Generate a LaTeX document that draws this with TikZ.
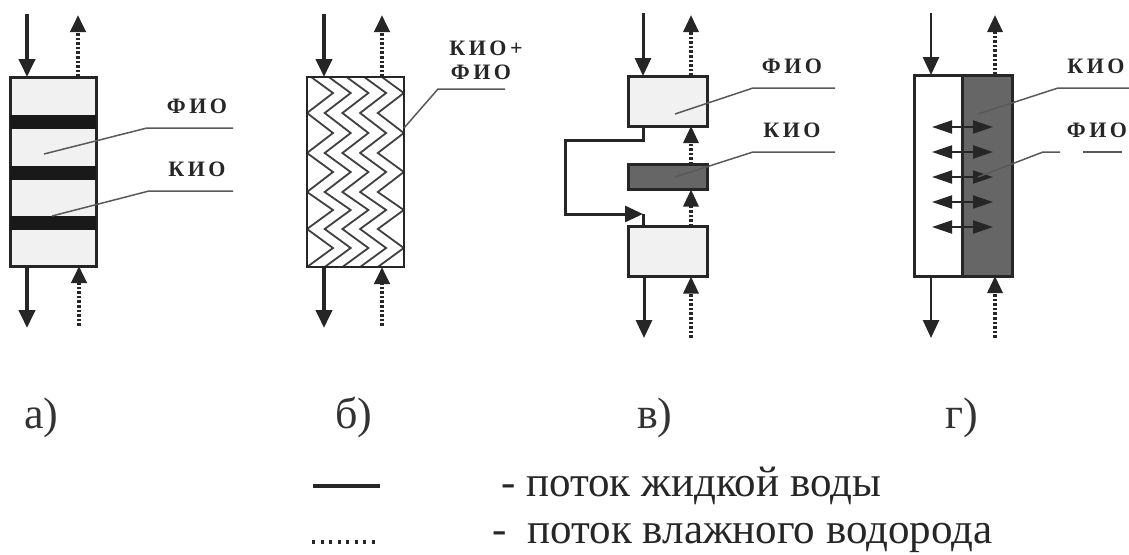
\documentclass[tikz,border=0pt]{standalone}
\usepackage{fontspec}
\setmainfont{Liberation Serif}
\usetikzlibrary{arrows.meta}
\definecolor{inkgray}{HTML}{262626}
\definecolor{layerlight}{HTML}{F1F1F1}
\definecolor{layerdark}{HTML}{666666}
\tikzset{
  layer/.style={draw=inkgray,line width=3pt,fill=layerlight,inner sep=0pt,outer sep=0pt},
  band/.style={fill=black!90,inner sep=0pt,outer sep=0pt},
  water/.style={draw=inkgray,line width=4pt,-{Triangle[length=18pt,width=16pt]}},
  vapor/.style={draw=inkgray,line width=4pt,dash pattern=on 2.6pt off 2pt,-{Triangle[length=17pt,width=15pt]}},
  leader/.style={draw=black!65,line width=1.5pt},
  tag/.style={font=\bfseries\fontsize{22}{24}\selectfont\addfontfeature{LetterSpace=16},inner sep=0pt,text=black!85},
  panel/.style={font=\fontsize{44}{48}\selectfont,inner sep=0pt,anchor=base west,text=black!80},
  legend/.style={font=\fontsize{43}{47}\selectfont,inner sep=0pt,anchor=base west,text=black!85}
}
\begin{document}
\begin{tikzpicture}[x=1pt,y=-1pt]
  \useasboundingbox (0,0) rectangle (1129,554);

  \node[layer,minimum width=86pt,minimum height=189pt] (boxa) at (53,171.5) {};
  \foreach \n/\y in {1/122,2/173,3/223}
    \node[band,minimum width=86pt,minimum height=14pt] (banda\n) at (53,\y) {};
  \coordinate (aIn) at (27,14);
  \coordinate (aOut) at (27,328);
  \coordinate (aUp) at (78,15);
  \coordinate (aLow) at (79,326);
  \draw[water] (aIn) -- (aIn |- boxa.north);
  \draw[water] (aIn |- boxa.south) -- (aOut);
  \draw[vapor] (aUp |- boxa.north) -- (aUp);
  \draw[vapor] (aLow) -- (aLow |- boxa.south);
  \node[tag] (fioa) at (197,106) {ФИО};
  \node[tag] (kioa) at (197,169) {КИО};
  \coordinate (fioaEnd) at (44,154);
  \coordinate (fioaBend) at (147,128);
  \coordinate (fioaTail) at (233,128);
  \coordinate (kioaEnd) at (52,216);
  \coordinate (kioaBend) at (149,191);
  \coordinate (kioaTail) at (233,191);
  \draw[leader] (fioaEnd) -- (fioaBend) -- (fioaTail);
  \draw[leader] (kioaEnd) -- (kioaBend) -- (kioaTail);

  \node[fill=white,inner sep=0pt,outer sep=0pt,
    minimum width=97pt,minimum height=190pt] (boxb) at (355.5,172) {};
  \begin{scope}
    \clip (307,77) rectangle (404,267);
    \foreach \k in {0,...,4}
      \draw[black!75,line width=1.8pt,xshift=17.7*\k pt]
        (307,267) -- (333,248) -- (307,229) -- (333,210) -- (307,192) -- (333,172)
        -- (307,153) -- (333,133) -- (307,113) -- (333,93) -- (307,74);
  \end{scope}
  \node[draw=inkgray,line width=2.2pt,inner sep=0pt,outer sep=0pt,
    minimum width=97pt,minimum height=190pt] (frameb) at (355.5,172) {};
  \coordinate (bIn) at (324,14);
  \coordinate (bOut) at (324,328);
  \coordinate (bUp) at (382,15);
  \coordinate (bLow) at (382,326);
  \draw[water] (bIn) -- (bIn |- boxb.north);
  \draw[water] (bIn |- boxb.south) -- (bOut);
  \draw[vapor] (bUp |- boxb.north) -- (bUp);
  \draw[vapor] (bLow) -- (bLow |- boxb.south);
  \node[tag] (kiob) at (486,48) {КИО+};
  \node[tag] (fiob) at (481,72) {ФИО};
  \coordinate (kiobEnd) at (404,128);
  \coordinate (kiobBend) at (438,89);
  \coordinate (kiobTail) at (505,89);
  \draw[leader] (kiobEnd) -- (kiobBend) -- (kiobTail);

  \node[layer,minimum width=79pt,minimum height=50pt] (topv) at (667.5,101) {};
  \node[layer,fill=layerdark,minimum width=79pt,minimum height=25pt] (midv) at (667.5,177) {};
  \node[layer,minimum width=79pt,minimum height=50pt] (lowv) at (667.5,251.5) {};
  \coordinate (vIn) at (643,13);
  \coordinate (vOut) at (644,338);
  \coordinate (vUp) at (691,15);
  \coordinate (vLow) at (691,338);
  \coordinate (vDrop) at (643,140);
  \coordinate (vLeft) at (565,140);
  \coordinate (vBack) at (565,214);
  \coordinate (vTurn) at (643,214);
  \draw[water,line width=3pt] (vIn) -- (vIn |- topv.north);
  \draw[water,line width=3pt] (vOut |- lowv.south) -- (vOut);
  \draw[water,line width=3pt] (vDrop |- topv.south) -- (vDrop) -- (vLeft) -- (vBack) -- (vTurn);
  \draw[inkgray,line width=3pt] (vTurn) -- (vTurn |- lowv.north);
  \draw[vapor,line width=3.2pt] (vUp |- topv.north) -- (vUp);
  \draw[vapor,line width=3.2pt] (vUp |- midv.north) -- (vUp |- topv.south);
  \draw[vapor,line width=3.2pt] (vUp |- lowv.north) -- (vUp |- midv.south);
  \draw[vapor,line width=3.2pt] (vLow) -- (vLow |- lowv.south);
  \node[tag] (fiov) at (792,66) {ФИО};
  \node[tag] (kiov) at (792,130) {КИО};
  \coordinate (fiovEnd) at (675,114);
  \coordinate (fiovBend) at (753,88);
  \coordinate (fiovTail) at (835,88);
  \coordinate (kiovEnd) at (675,177);
  \coordinate (kiovBend) at (753,152);
  \coordinate (kiovTail) at (835,152);
  \draw[leader] (fiovEnd) -- (fiovBend) -- (fiovTail);
  \draw[leader] (kiovEnd) -- (kiovBend) -- (kiovTail);

  \node[layer,fill=white,minimum width=48pt,minimum height=201pt] (leftg) at (938,175.5) {};
  \node[layer,fill=layerdark,minimum width=50pt,minimum height=201pt] (rightg) at (987,175.5) {};
  \coordinate (gIn) at (931,13);
  \coordinate (gOut) at (931,338);
  \coordinate (gUp) at (995,15);
  \coordinate (gLow) at (995,338);
  \draw[water,line width=2.6pt] (gIn) -- (gIn |- leftg.north);
  \draw[water,line width=2.6pt] (gIn |- leftg.south) -- (gOut);
  \draw[vapor,line width=3.2pt] (gUp |- rightg.north) -- (gUp);
  \draw[vapor,line width=3.2pt] (gLow) -- (gLow |- rightg.south);
  \foreach \y in {127,152,177,202,227} {
    \coordinate (gl\y) at (932,\y);
    \coordinate (gr\y) at (993,\y);
    \draw[black!85,line width=2pt,{Triangle[length=20pt,width=13pt]}-{Triangle[length=20pt,width=13pt]}] (gl\y) -- (gr\y);
  }
  \node[tag] (kiog) at (1096,66) {КИО};
  \node[tag] (fiog) at (1097,130) {ФИО};
  \coordinate (kiogEnd) at (978,114);
  \coordinate (kiogBend) at (1058,88);
  \coordinate (kiogTail) at (1129,88);
  \coordinate (fiogEnd) at (978,177);
  \coordinate (fiogBend) at (1043,152);
  \coordinate (fiogGap) at (1060,152);
  \coordinate (fiogResume) at (1083,152);
  \coordinate (fiogTail) at (1122,152);
  \draw[leader] (kiogEnd) -- (kiogBend) -- (kiogTail);
  \draw[leader] (fiogEnd) -- (fiogBend) -- (fiogGap);
  \draw[leader] (fiogResume) -- (fiogTail);

  \node[panel] (capa) at (24,428) {а)};
  \node[panel] (capb) at (335,428) {б)};
  \node[panel] (capv) at (637,428) {в)};
  \node[panel] (capg) at (945,428) {г)};

  \coordinate (liqFrom) at (313,486);
  \coordinate (liqTo) at (380,486);
  \coordinate (wetFrom) at (312,542);
  \coordinate (wetTo) at (379,542);
  \draw[inkgray,line width=4.5pt] (liqFrom) -- (liqTo);
  \draw[inkgray,line width=3.5pt,dash pattern=on 3pt off 5.5pt] (wetFrom) -- (wetTo);
  \node[legend] (liqtext) at (501,496) {- поток жидкой воды};
  \node[legend] (wettext) at (492,543) {-\hspace{21pt}поток влажного водорода};
\end{tikzpicture}
\end{document}
